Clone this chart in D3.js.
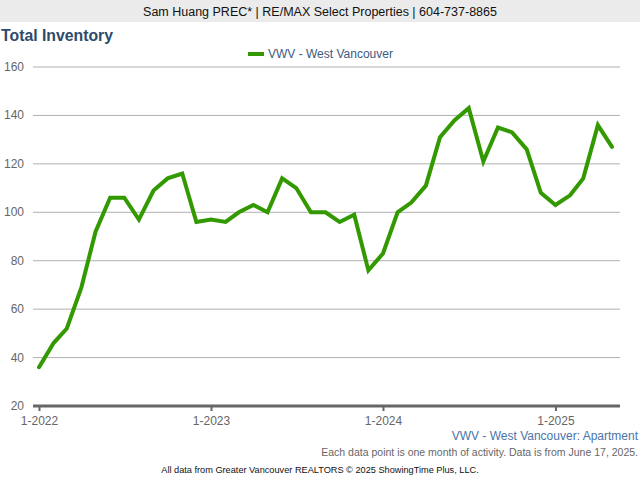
<!DOCTYPE html>
<html>
<head>
<meta charset="utf-8">
<script src="https://cdn.jsdelivr.net/npm/d3@7"></script>
<style>
  body { margin: 0; background: #fff; }
  text { font-family: "Liberation Sans", Arial, sans-serif; }
</style>
</head>
<body>
<div id="chart"></div>
<script>
//chart data, monthly from 1-2022
let startMonth = new Date(2022, 0, 1);
let inventory = [36, 46, 52, 69, 92, 106, 106, 97, 109, 114, 116, 96,
                 97, 96, 100, 103, 100, 114, 110, 100, 100, 96, 99, 76,
                 83, 100, 104, 111, 131, 138, 143, 121, 135, 133, 126, 108,
                 103, 107, 114, 136, 127];
let yTicks = [20, 40, 60, 80, 100, 120, 140, 160];
let xTickLabels = ["1-2022", "1-2023", "1-2024", "1-2025"];
let seriesName = "VWV - West Vancouver";

let width = 640;
let height = 480;
let plotLeft = 33;
let plotRight = 620;
let plotTop = 67;
let plotBottom = 406;

let svg = d3.select("#chart")
        .append("svg")
        .attr("width", width)
        .attr("height", height);

//header band
svg.append("rect")
  .attr("x", 0).attr("y", 0)
  .attr("width", width).attr("height", 22)
  .attr("fill", "#ebebeb");
svg.append("text")
  .attr("x", width / 2).attr("y", 16)
  .attr("text-anchor", "middle")
  .attr("font-size", 12.5)
  .attr("fill", "#111")
  .text("Sam Huang PREC* | RE/MAX Select Properties | 604-737-8865");

//title
svg.append("text")
  .attr("x", 1).attr("y", 41)
  .attr("font-size", 15.8)
  .attr("font-weight", "bold")
  .attr("fill", "#2d4a6b")
  .text("Total Inventory");

//legend
svg.append("rect")
  .attr("x", 248).attr("y", 52)
  .attr("width", 16).attr("height", 4)
  .attr("fill", "#339900");
svg.append("text")
  .attr("x", 268).attr("y", 58)
  .attr("font-size", 12)
  .attr("fill", "#3b5a7e")
  .text(seriesName);

let dates = inventory.map((d, i) => d3.timeMonth.offset(startMonth, i));

let x = d3.scaleTime()
  .domain([startMonth, dates[dates.length - 1]])
  .range([39, 612]);

let y = d3.scaleLinear()
  .domain([20, 160])
  .range([plotBottom, plotTop]);

//gridlines
svg.append("g")
  .selectAll("line")
  .data(yTicks.slice(1))
  .enter().append("line")
  .attr("x1", plotLeft).attr("x2", plotRight)
  .attr("y1", d => y(d)).attr("y2", d => y(d))
  .attr("stroke", "#b0b0b0")
  .attr("stroke-width", 1);

//y labels
svg.append("g")
  .selectAll("text")
  .data(yTicks)
  .enter().append("text")
  .attr("x", 24)
  .attr("y", d => y(d) + 4)
  .attr("text-anchor", "end")
  .attr("font-size", 12)
  .attr("fill", "#666")
  .text(d => d);

//x axis
let yearTicks = xTickLabels.map(s => new Date(+s.split("-")[1], 0, 1));
let xAxis = d3.axisBottom(x)
  .tickValues(yearTicks)
  .tickSize(5)
  .tickFormat((d, i) => xTickLabels[i]);

let axisG = svg.append("g")
  .attr("transform", "translate(0," + plotBottom + ")")
  .call(xAxis);
axisG.select(".domain").remove();
axisG.selectAll(".tick line").attr("stroke", "#666").attr("stroke-width", 2);
axisG.selectAll(".tick text")
  .attr("font-size", 12)
  .attr("fill", "#666")
  .attr("dy", "0.9em")
  .style("font-family", "Liberation Sans, Arial, sans-serif");
svg.append("line")
  .attr("x1", plotLeft).attr("x2", plotRight)
  .attr("y1", plotBottom).attr("y2", plotBottom)
  .attr("stroke", "#666")
  .attr("stroke-width", 3);

//series line
let line = d3.line()
  .x((d, i) => x(dates[i]))
  .y(d => y(d));

svg.append("path")
  .datum(inventory)
  .attr("d", line)
  .attr("fill", "none")
  .attr("stroke", "#339900")
  .attr("stroke-width", 4)
  .attr("stroke-linejoin", "miter")
  .attr("stroke-linecap", "round");

//footer
svg.append("text")
  .attr("x", 638).attr("y", 440)
  .attr("text-anchor", "end")
  .attr("font-size", 12)
  .attr("fill", "#4a74a8")
  .text("VWV - West Vancouver: Apartment");
svg.append("text")
  .attr("x", 638).attr("y", 456)
  .attr("text-anchor", "end")
  .attr("font-size", 10.5)
  .attr("fill", "#666")
  .text("Each data point is one month of activity. Data is from June 17, 2025.");
svg.append("text")
  .attr("x", 320).attr("y", 473)
  .attr("text-anchor", "middle")
  .attr("font-size", 9.2)
  .attr("fill", "#111")
  .text("All data from Greater Vancouver REALTORS \u00a9 2025 ShowingTime Plus, LLC.");
</script>
</body>
</html>
